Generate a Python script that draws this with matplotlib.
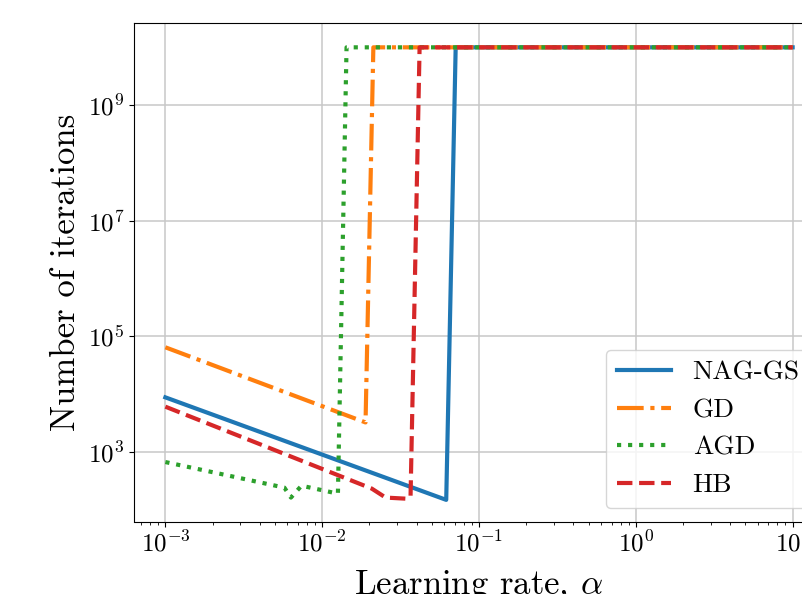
import numpy as np
import matplotlib
matplotlib.use("Agg")
import matplotlib.pyplot as plt
from matplotlib.ticker import FuncFormatter, NullFormatter, NullLocator, FixedLocator

plt.rcParams.update({
    'font.family': 'serif',
    'font.serif': ['cmr10', 'DejaVu Serif'],
    'mathtext.fontset': 'cm',
    'axes.formatter.use_mathtext': True,
})

# Data
alpha_nag = [1e-3, 0.0618, 0.0710, 10]
iters_nag = [8700, 146, 1e10, 1e10]

alpha_gd = [1e-3, 0.0189, 0.0212, 10]
iters_gd = [64000, 3200, 1e10, 1e10]

alpha_agd = [1e-3, 0.00574, 0.00632, 0.00738, 0.0126, 0.0143, 10]
iters_agd = [660, 238, 160, 257, 187, 1e10, 1e10]

alpha_hb = [1e-3, 0.0207, 0.0254, 0.0345, 0.0366, 0.0418, 10]
iters_hb = [6000, 229, 160, 153, 166, 1e10, 1e10]

labels = ['NAG-GS', 'GD', 'AGD', 'HB']
xticks = [1e-3, 1e-2, 1e-1, 1e0, 1e1]
yticks = [1e3, 1e5, 1e7, 1e9]

W, H = 802, 594
fig = plt.figure(figsize=(W / 100, H / 100), dpi=100)
left, right, top, bottom = 134, 824, 22.5, 521.5
ax = fig.add_axes([left / W, 1 - bottom / H, (right - left) / W, (bottom - top) / H])

ax.plot(alpha_nag, iters_nag, '-', color='#1f77b4', lw=3, label=labels[0])
ax.plot(alpha_gd, iters_gd, '-.', color='#ff7f0e', lw=3, label=labels[1])
ax.plot(alpha_agd, iters_agd, ':', color='#2ca02c', lw=3, label=labels[2])
ax.plot(alpha_hb, iters_hb, '--', color='#d62728', lw=3, label=labels[3])

ax.set_xscale('log')
ax.set_yscale('log')
ax.set_xlim(10 ** -3.2, 10 ** 1.2)
ax.set_ylim(10 ** 1.79, 10 ** 10.43)

fmt = FuncFormatter(lambda v, p: r'$10^{%d}$' % int(round(np.log10(v))))
ax.xaxis.set_major_locator(FixedLocator(xticks))
ax.xaxis.set_major_formatter(fmt)
ax.xaxis.set_minor_formatter(NullFormatter())
ax.yaxis.set_major_locator(FixedLocator(yticks))
ax.yaxis.set_major_formatter(fmt)
ax.yaxis.set_minor_locator(NullLocator())

ax.tick_params(axis='both', which='major', labelsize=18)
ax.grid(True, which='major', color='#c8c8c8', lw=1.1)

ax.set_xlabel(r'Learning rate, $\alpha$', fontsize=25, labelpad=8)
ax.set_ylabel('Number of iterations', fontsize=25)

ax.legend(loc='lower right', fontsize=19.5)

fig.savefig('out.png', dpi=100)
